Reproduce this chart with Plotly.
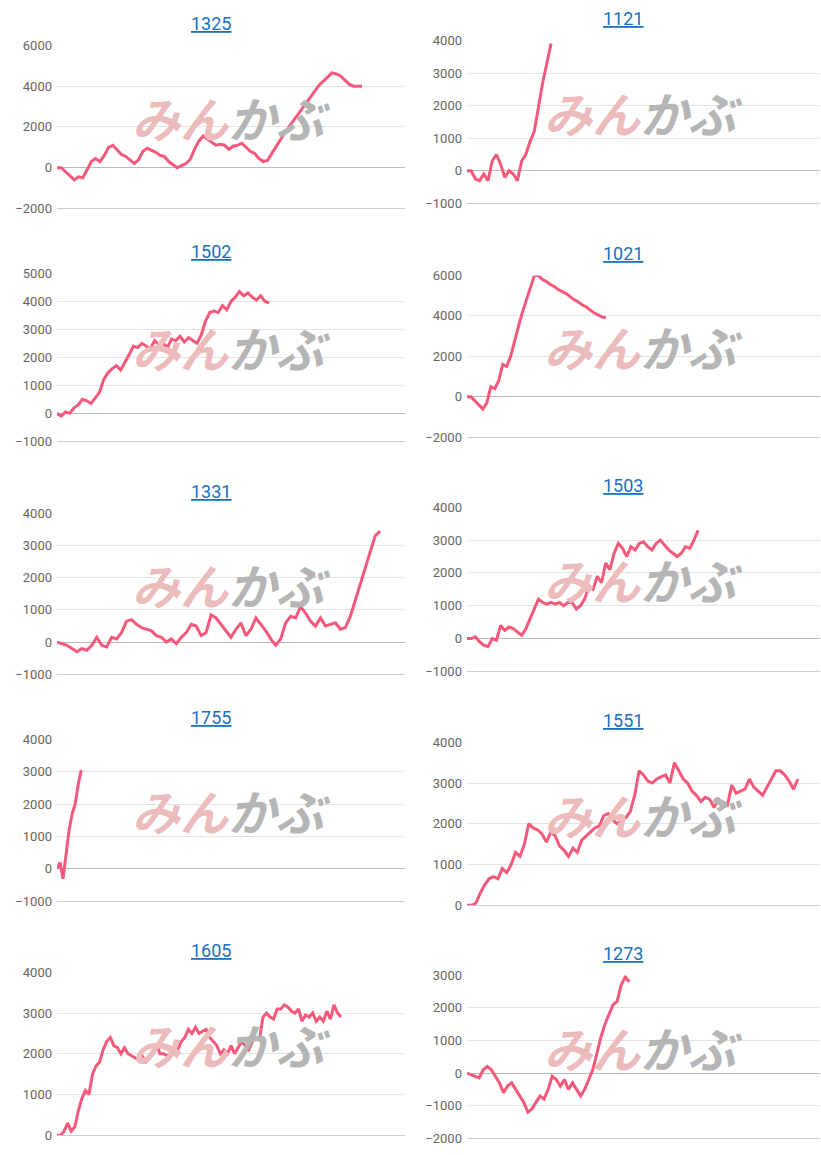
import plotly.graph_objects as go

# panel titles and cumulative profit series
titles = ["1325", "1121", "1502", "1021", "1331", "1503", "1755", "1551", "1605", "1273"]

s1325 = [0, 0, -200, -400, -600, -450, -500, -100, 300, 450, 300, 600, 1000, 1100, 900, 650, 550, 350, 200, 400,
         800, 950, 850, 750, 600, 550, 300, 150, 0, 100, 200, 400, 900, 1300, 1550, 1400, 1250, 1100, 1150, 1100,
         900, 1050, 1100, 1200, 1000, 800, 700, 450, 300, 350, 700, 1050, 1350, 1700, 2000, 2300, 2600, 2900, 3200,
         3500, 3800, 4050, 4250, 4450, 4650, 4600, 4500, 4300, 4100, 4000, 4000, 4000]
s1121 = [0, 0, -250, -300, -100, -300, 300, 500, 200, -200, 0, -100, -300, 300, 500, 900, 1200, 2000, 2700, 3300, 3900]
s1502 = [0, -100, 50, 0, 200, 300, 500, 450, 350, 550, 750, 1200, 1450, 1600, 1700, 1550, 1800, 2100, 2400, 2350,
         2500, 2400, 2300, 2600, 2450, 2500, 2350, 2650, 2600, 2750, 2550, 2700, 2600, 2500, 2800, 3300, 3600, 3650,
         3600, 3850, 3700, 4000, 4150, 4350, 4200, 4300, 4150, 4050, 4200, 4000, 3950]
s1021 = [0, 0, -200, -400, -600, -300, 500, 400, 800, 1600, 1500, 2000, 2800, 3500, 4200, 4800, 5400, 6000, 6000,
         5800, 5700, 5550, 5450, 5300, 5200, 5100, 4950, 4800, 4700, 4550, 4450, 4300, 4150, 4050, 3950, 3900]
s1331 = [0, -50, -100, -200, -300, -200, -250, -100, 150, -100, -150, 150, 100, 300, 650, 700, 550, 450, 400, 350,
         200, 150, 0, 100, -50, 150, 300, 550, 500, 200, 300, 850, 750, 550, 350, 150, 400, 600, 200, 400, 750, 550,
         350, 100, -100, 100, 600, 800, 750, 1100, 900, 650, 500, 750, 500, 550, 600, 400, 450, 800, 1300, 1800,
         2300, 2800, 3300, 3450]
s1503 = [0, 0, 50, -100, -200, -250, 0, -50, 400, 250, 350, 300, 200, 100, 300, 600, 900, 1200, 1100, 1050, 1100,
         1050, 1100, 1000, 1100, 1100, 900, 1000, 1200, 1600, 1500, 1900, 1700, 2300, 2100, 2600, 2900, 2750, 2500,
         2800, 2700, 2900, 2950, 2800, 2700, 2900, 3000, 2850, 2700, 2600, 2500, 2600, 2800, 2750, 3000, 3300]
s1755 = [0, 200, -300, 500, 1200, 1700, 2000, 2600, 3050]
s1551 = [0, 0, 50, 300, 500, 650, 700, 650, 900, 800, 1000, 1300, 1200, 1500, 2000, 1900, 1850, 1750, 1550, 1800,
         1700, 1450, 1350, 1200, 1400, 1300, 1600, 1700, 1800, 1900, 1950, 2200, 2250, 2100, 2000, 2100, 2150, 2300,
         2700, 3300, 3200, 3050, 3000, 3100, 3150, 3200, 3000, 3500, 3300, 3100, 3000, 2800, 2700, 2550, 2650, 2600,
         2400, 2600, 2500, 2450, 2950, 2750, 2800, 2850, 3100, 2900, 2800, 2700, 2900, 3100, 3300, 3300, 3200, 3050,
         2850, 3100]
s1605 = [0, 0, 100, 300, 100, 200, 600, 900, 1100, 1000, 1500, 1700, 1800, 2100, 2300, 2400, 2200, 2150, 2000, 2150,
         2000, 1950, 1900, 1850, 1950, 1800, 1900, 2000, 2250, 2000, 2000, 1950, 2000, 2150, 2100, 2300, 2400, 2600,
         2500, 2650, 2500, 2550, 2600, 2400, 2300, 2200, 2000, 2100, 2000, 2200, 2000, 2150, 2300, 2200, 2100, 2300,
         2400, 2350, 2900, 3000, 2900, 2850, 3100, 3100, 3200, 3150, 3050, 3000, 3100, 2800, 2950, 2900, 3000, 2800,
         2900, 2800, 3050, 2850, 3200, 3000, 2900]
s1273 = [0, -50, -100, -150, 100, 200, 100, -100, -300, -600, -400, -300, -500, -700, -900, -1200, -1100, -900, -700,
         -800, -500, -100, -200, -400, -200, -500, -300, -500, -700, -500, -200, 100, 600, 1100, 1500, 1800, 2100,
         2200, 2700, 2950, 2800]

series = [s1325, s1121, s1502, s1021, s1331, s1503, s1755, s1551, s1605, s1273]
x_max = [81, 84, 82, 89, 70, 84, 115, 80, 98, 87]
y_ranges = [(-2000, 6000), (-1000, 4000), (-1000, 5000), (-2000, 6000), (-1000, 4000),
            (-1000, 4000), (-1000, 4000), (0, 4000), (0, 4000), (-2000, 3000)]
y_dtick = [2000, 1000, 1000, 2000, 1000, 1000, 1000, 1000, 1000, 1000]

# pixel boxes (top, bottom) of each plot area
W, H = 821, 1155
boxes = [(45, 208), (40, 203), (273, 441), (275, 437), (513, 674),
         (507, 671), (739, 901), (742, 905), (972, 1135), (975, 1138)]
cols = [(57, 405), (467, 820)]


def py(p):
    # vertical pixel -> paper fraction (corrected for how the page gets rendered)
    return 1 - ((p - 6.58) / 0.98716) / H


fig = go.Figure()
for i, (t, s) in enumerate(zip(titles, series)):
    n = i + 1
    xa = "x" if n == 1 else f"x{n}"
    ya = "y" if n == 1 else f"y{n}"
    c0, c1 = cols[i % 2]
    top, bot = boxes[i]
    cx = (c0 + c1) / 2 / W
    # watermark first so the line sits over it
    fig.add_annotation(text="<b><i><span style='color:#ecbcbc'>みん</span>"
                            "<span style='color:#b5b5b5'>かぶ</span></i></b>",
                       xref="paper", yref="paper", x=cx, y=py((top + bot) / 2 - 10),
                       xanchor="center", yanchor="middle", showarrow=False,
                       font=dict(size=48, family="Noto Sans CJK JP"))
    fig.add_trace(go.Scatter(x=list(range(len(s))), y=s, mode="lines", xaxis=xa, yaxis=ya,
                             line=dict(color="#f4587a", width=3), showlegend=False, hoverinfo="skip"))
    fig.layout[f"xaxis{'' if n == 1 else n}"] = dict(
        domain=[c0 / W, c1 / W], range=[0, x_max[i]], anchor=ya, showgrid=False,
        showticklabels=False, zeroline=False, showline=True, linecolor="#cccccc")
    fig.layout[f"yaxis{'' if n == 1 else n}"] = dict(
        domain=[py(bot), py(top)], range=list(y_ranges[i]), dtick=y_dtick[i], anchor=xa,
        gridcolor="#e4e4e4", zeroline=True, zerolinecolor="#bbbbbb", zerolinewidth=1,
        tickfont=dict(size=13, color="#666666"), ticks="", ticklabelstandoff=4)
    fig.add_annotation(text=f"<u>{t}</u>", xref="paper", yref="paper",
                       x=cx - 20 / W, y=py(top - 22), xanchor="center", yanchor="middle",
                       showarrow=False, font=dict(size=18, color="#1a6fc0"))

fig.update_layout(width=W, height=H, margin=dict(l=0, r=0, t=0, b=0),
                  plot_bgcolor="white", paper_bgcolor="white",
                  font=dict(family="Roboto, Arial, sans-serif"))
fig.write_html("out.html", config={"displayModeBar": False},
               post_script="document.body.style.margin='0';")
